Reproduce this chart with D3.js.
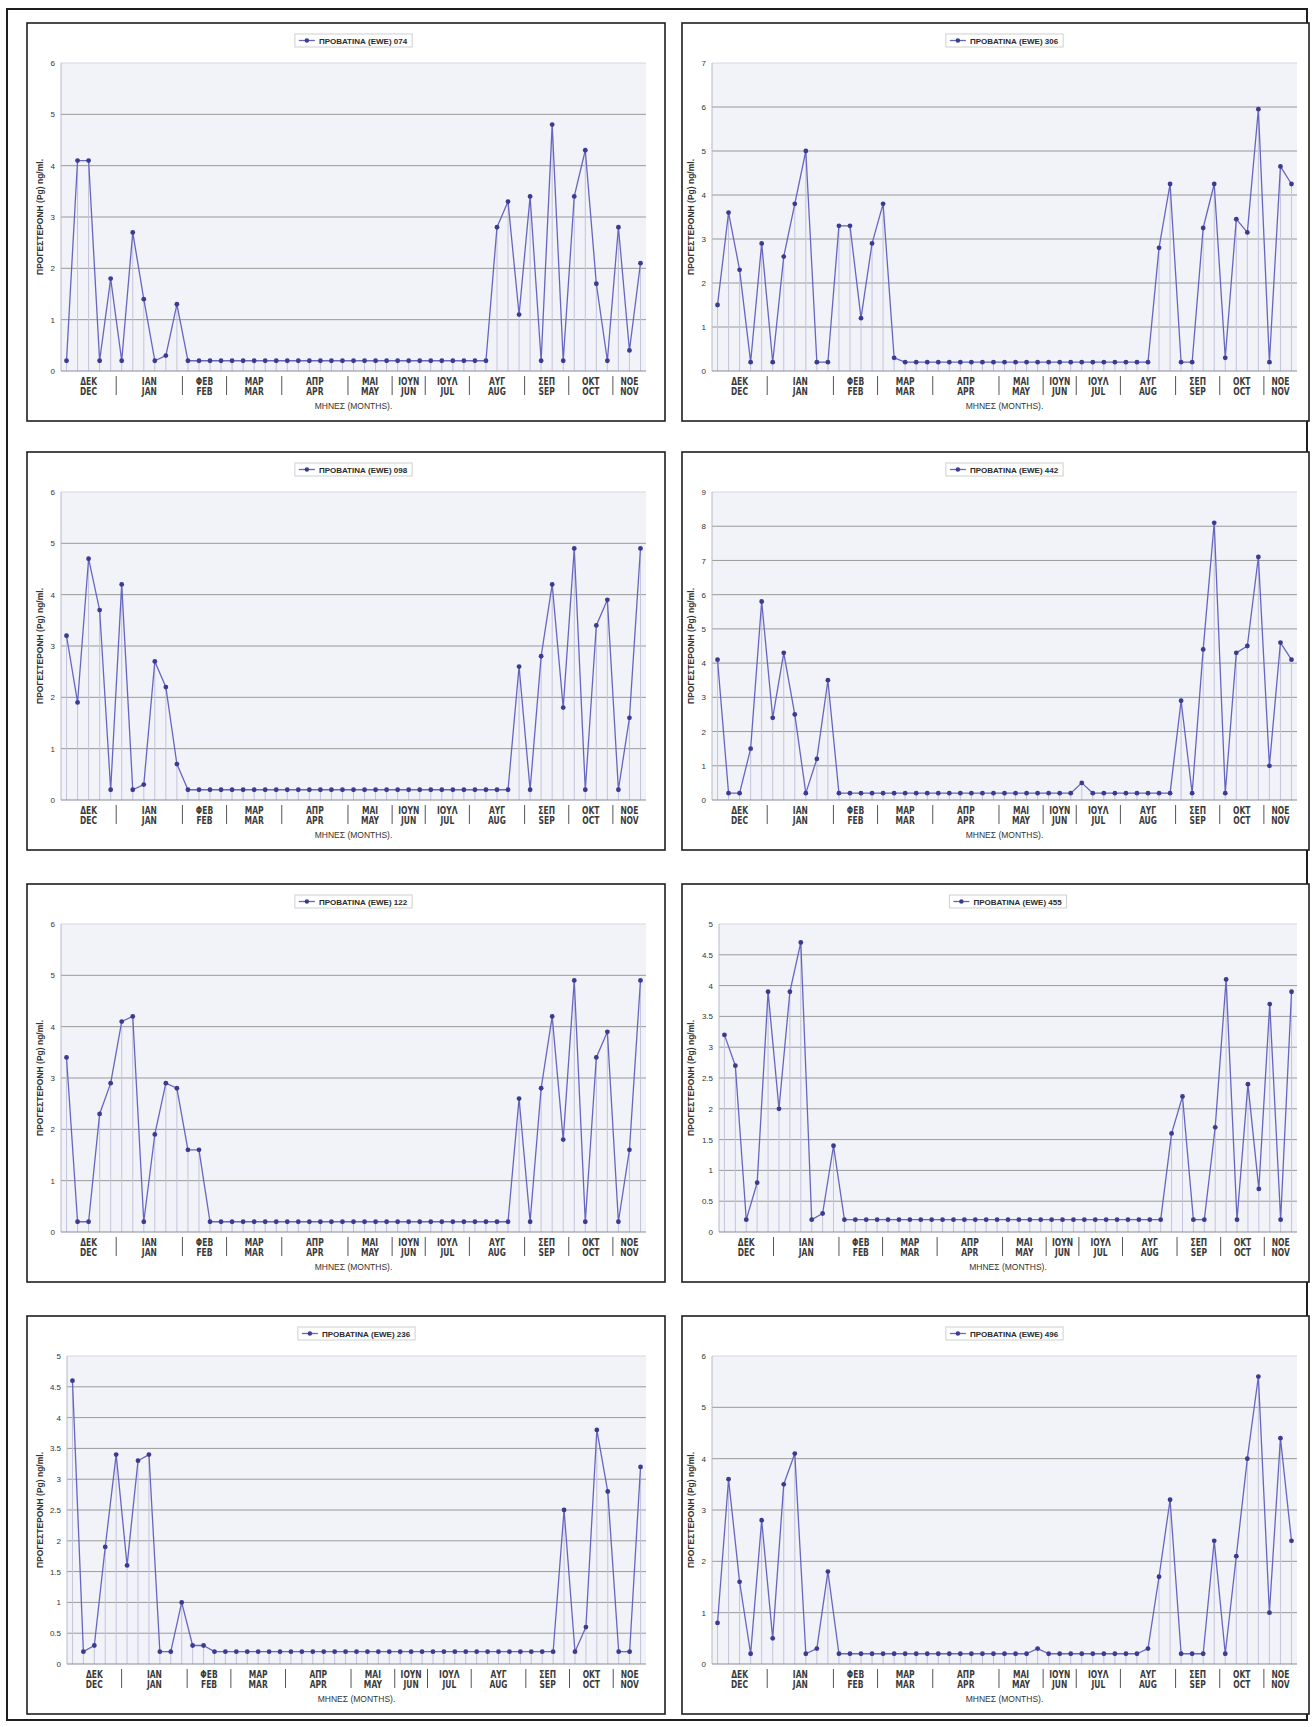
<!DOCTYPE html>
<html><head><meta charset="utf-8">
<script src="https://cdn.jsdelivr.net/npm/d3@7"></script>
<style>
body{margin:0;background:#fff;}
svg{display:block;}
</style></head><body>
<svg id="c" width="1312" height="1727"></svg>
<script>
// ---------------- DATA ----------------
const monthsGR = ["ΔΕΚ","ΙΑΝ","ΦΕΒ","ΜΑΡ","ΑΠΡ","ΜΑΙ","ΙΟΥΝ","ΙΟΥΛ","ΑΥΓ","ΣΕΠ","ΟΚΤ","ΝΟΕ"];
const monthsEN = ["DEC","JAN","FEB","MAR","APR","MAY","JUN","JUL","AUG","SEP","OCT","NOV"];
const samplesPerMonth = [5,6,4,5,6,4,3,4,5,4,4,3];
const eweIds = ["074","306","098","442","122","455","236","496"];

const ewe074 = [0.2,4.1,4.1,0.2,1.8,0.2,2.7,1.4,0.2,0.3,1.3,
  0.2,0.2,0.2,0.2,0.2,0.2,0.2,0.2,0.2,0.2,
  0.2,0.2,0.2,0.2,0.2,0.2,0.2,0.2,0.2,0.2,
  0.2,0.2,0.2,0.2,0.2,0.2,0.2,0.2,
  2.8,3.3,1.1,3.4,0.2,4.8,0.2,3.4,4.3,1.7,0.2,2.8,0.4,2.1];
const ewe306 = [1.5,3.6,2.3,0.2,2.9,0.2,2.6,3.8,5.0,0.2,0.2,3.3,3.3,1.2,2.9,3.8,0.3,
  0.2,0.2,0.2,0.2,0.2,0.2,0.2,0.2,0.2,0.2,
  0.2,0.2,0.2,0.2,0.2,0.2,0.2,0.2,0.2,0.2,
  0.2,0.2,0.2,
  2.8,4.25,0.2,0.2,3.25,4.25,0.3,3.45,3.15,5.95,0.2,4.65,4.25];
const ewe098 = [3.2,1.9,4.7,3.7,0.2,4.2,0.2,0.3,2.7,2.2,0.7,
  0.2,0.2,0.2,0.2,0.2,0.2,0.2,0.2,0.2,0.2,
  0.2,0.2,0.2,0.2,0.2,0.2,0.2,0.2,0.2,0.2,
  0.2,0.2,0.2,0.2,0.2,0.2,0.2,0.2,0.2,0.2,
  2.6,0.2,2.8,4.2,1.8,4.9,0.2,3.4,3.9,0.2,1.6,4.9];
const ewe442 = [4.1,0.2,0.2,1.5,5.8,2.4,4.3,2.5,0.2,1.2,3.5,
  0.2,0.2,0.2,0.2,0.2,0.2,0.2,0.2,0.2,0.2,
  0.2,0.2,0.2,0.2,0.2,0.2,0.2,0.2,0.2,0.2,
  0.2,0.2,
  0.5,
  0.2,0.2,0.2,0.2,0.2,0.2,0.2,0.2,
  2.9,0.2,4.4,8.1,0.2,4.3,4.5,7.1,1.0,4.6,4.1];
const ewe122 = [3.4,0.2,0.2,2.3,2.9,4.1,4.2,0.2,1.9,2.9,2.8,1.6,1.6,
  0.2,0.2,0.2,0.2,0.2,0.2,0.2,0.2,0.2,0.2,
  0.2,0.2,0.2,0.2,0.2,0.2,0.2,0.2,0.2,0.2,
  0.2,0.2,0.2,0.2,0.2,0.2,0.2,0.2,
  2.6,0.2,2.8,4.2,1.8,4.9,0.2,3.4,3.9,0.2,1.6,4.9];
const ewe455 = [3.2,2.7,0.2,0.8,3.9,2.0,3.9,4.7,0.2,0.3,1.4,
  0.2,0.2,0.2,0.2,0.2,0.2,0.2,0.2,0.2,0.2,
  0.2,0.2,0.2,0.2,0.2,0.2,0.2,0.2,0.2,0.2,
  0.2,0.2,0.2,0.2,0.2,0.2,0.2,0.2,0.2,0.2,
  1.6,2.2,0.2,0.2,1.7,4.1,0.2,2.4,0.7,3.7,0.2,3.9];
const ewe236 = [4.6,0.2,0.3,1.9,3.4,1.6,3.3,3.4,0.2,0.2,1.0,0.3,0.3,
  0.2,0.2,0.2,0.2,0.2,0.2,0.2,0.2,0.2,0.2,
  0.2,0.2,0.2,0.2,0.2,0.2,0.2,0.2,0.2,0.2,
  0.2,0.2,0.2,0.2,0.2,0.2,0.2,0.2,0.2,0.2,
  0.2,0.2,
  2.5,0.2,0.6,3.8,2.8,0.2,0.2,3.2];
const ewe496 = [0.8,3.6,1.6,0.2,2.8,0.5,3.5,4.1,0.2,0.3,1.8,
  0.2,0.2,0.2,0.2,0.2,0.2,0.2,0.2,0.2,0.2,
  0.2,0.2,0.2,0.2,0.2,0.2,0.2,0.2,
  0.3,
  0.2,0.2,0.2,0.2,0.2,0.2,0.2,0.2,0.2,
  0.3,
  1.7,3.2,0.2,0.2,0.2,2.4,0.2,2.1,4.0,5.6,1.0,4.4,2.4];

const series = [ewe074, ewe306, ewe098, ewe442, ewe122, ewe455, ewe236, ewe496];
const yMax  = [6,7,6,9,6,5,5,6];
const yStep = [1,1,1,1,1,0.5,0.5,1];
const legendPrefix = "ΠΡΟΒΑΤΙΝΑ (EWE) ";
const yTitle = "ΠΡΟΓΕΣΤΕΡΟΝΗ (Pg) ng/ml.";
const xTitle = "ΜΗΝΕΣ (MONTHS).";

// ---------------- LAYOUT ----------------
const colX = [27, 682], colW = [638, 627];
const rowY = [23, 452, 884, 1316], panelH = 398;
const mlInt = [34, 30], mlDec = [40, 37], mr = [19, 12];
const yTitleOff = [13, 9];
const plotTop = 40, plotBot = 348;

const C = {
  bg: "#f2f2f9", grid: "#9a9a9a", drop: "#c4c4da", line: "#6666c0",
  marker: "#3b3b92", text: "#333", frame: "#1e1e1e"
};
const fontMain = "Liberation Sans, Arial, sans-serif";
const fontNarrow = "'Liberation Sans Narrow', 'Arial Narrow', 'DejaVu Sans Condensed', sans-serif";

const svg = d3.select("#c");
svg.append("rect").attr("x",0).attr("y",0).attr("width",1312).attr("height",1727).attr("fill","#fff");
svg.append("rect").attr("x",7).attr("y",9).attr("width",1300).attr("height",1711)
  .attr("fill","none").attr("stroke",C.frame).attr("stroke-width",2);

const cats = [];
monthsEN.forEach((m, mi) => { for (let k = 0; k < samplesPerMonth[mi]; k++) cats.push(m + "-" + (k + 1)); });
const ends = d3.cumsum(samplesPerMonth);

series.forEach((vals, i) => {
  const col = i % 2, row = Math.floor(i / 2);
  const bx = colX[col], by = rowY[row], bw = colW[col];
  const dec = yStep[i] < 1;
  const pl = bx + (dec ? mlDec[col] : mlInt[col]);
  const pr = bx + bw - mr[col];
  const pt = by + plotTop, pb = by + plotBot;
  const g = svg.append("g");

  g.append("rect").attr("x", bx).attr("y", by).attr("width", bw).attr("height", panelH)
    .attr("fill", "#fff").attr("stroke", C.frame).attr("stroke-width", 1.6);

  const x = d3.scaleBand().domain(cats).range([pl, pr]);
  const cx = c => x(c) + x.bandwidth() / 2;
  const y = d3.scaleLinear().domain([0, yMax[i]]).range([pb, pt]);
  const ticks = d3.range(0, yMax[i] + yStep[i] / 2, yStep[i]);

  g.append("rect").attr("x", pl).attr("y", pt).attr("width", pr - pl).attr("height", pb - pt)
    .attr("fill", C.bg);

  // gridlines
  g.selectAll(".gl").data(ticks.filter(t => t > 0)).join("line")
    .attr("x1", pl).attr("x2", pr).attr("y1", d => y(d)).attr("y2", d => y(d))
    .attr("stroke", d => d === yMax[i] ? "#d6d6e2" : C.grid).attr("stroke-width", 1);

  // drop lines
  g.selectAll(".dl").data(vals).join("line")
    .attr("x1", (d, k) => cx(cats[k])).attr("x2", (d, k) => cx(cats[k]))
    .attr("y1", y(0)).attr("y2", d => y(d))
    .attr("stroke", C.drop).attr("stroke-width", 1);

  // axes lines
  g.append("line").attr("x1", pl).attr("x2", pl).attr("y1", pt).attr("y2", pb)
    .attr("stroke", "#b8b8c8").attr("stroke-width", 1);
  g.append("line").attr("x1", pl).attr("x2", pr).attr("y1", pb).attr("y2", pb)
    .attr("stroke", "#8a8a9a").attr("stroke-width", 1);

  // y tick labels
  const ya = d3.axisLeft(y).tickValues(ticks).tickSize(0).tickPadding(6).tickFormat(d3.format("~f"));
  const yg = g.append("g").attr("transform", `translate(${pl},0)`).call(ya);
  yg.select(".domain").remove();
  yg.selectAll("text").attr("font-family", fontMain).attr("font-size", 8).attr("fill", C.text);

  // series line + markers
  const line = d3.line().x((d, k) => cx(cats[k])).y(d => y(d));
  g.append("path").datum(vals).attr("d", line).attr("fill", "none")
    .attr("stroke", C.line).attr("stroke-width", 1.3).attr("stroke-linejoin", "round");
  g.selectAll(".mk").data(vals).join("circle")
    .attr("cx", (d, k) => cx(cats[k])).attr("cy", d => y(d)).attr("r", 2.4)
    .attr("fill", C.marker);

  // month separators
  g.selectAll(".sep").data(ends.slice(0, -1)).join("line")
    .attr("x1", d => x(cats[d])).attr("x2", d => x(cats[d]))
    .attr("y1", pb + 5).attr("y2", pb + 24)
    .attr("stroke", "#555").attr("stroke-width", 1);

  // month labels (condensed)
  const groups = monthsEN.map((m, mi) => {
    const s = ends[mi] - samplesPerMonth[mi], e = ends[mi] - 1;
    return { gr: monthsGR[mi], en: m, xc: (x(cats[s]) + x(cats[e]) + x.bandwidth()) / 2 };
  });
  const mg = g.selectAll(".ml").data(groups).join("g")
    .attr("transform", d => `translate(${d.xc},${pb}) scale(0.8,1)`);
  const mt = mg.append("text").attr("text-anchor", "middle")
    .attr("font-family", fontNarrow).attr("font-weight", "bold").attr("font-size", 10.5)
    .attr("fill", "#3a3a3a");
  mt.append("tspan").attr("x", 0).attr("y", 14).text(d => d.gr);
  mt.append("tspan").attr("x", 0).attr("y", 24).text(d => d.en);

  // x title
  g.append("text").attr("x", (pl + pr) / 2).attr("y", pb + 38).attr("text-anchor", "middle")
    .attr("font-family", fontMain).attr("font-size", 8.5).attr("fill", C.text).text(xTitle);

  // y title
  g.append("text").attr("transform", `translate(${bx + yTitleOff[col]},${(pt + pb) / 2}) rotate(-90)`)
    .attr("text-anchor", "middle").attr("dominant-baseline", "central")
    .attr("font-family", fontMain).attr("font-weight", "bold").attr("font-size", 8.5)
    .attr("fill", C.text).text(yTitle);

  // legend
  const lg = g.append("g");
  const lt = lg.append("text").attr("font-family", fontMain).attr("font-weight", "bold")
    .attr("font-size", 8).attr("fill", "#2a2a2a").attr("dominant-baseline", "central")
    .text(legendPrefix + eweIds[i]);
  const tw = lt.node().getComputedTextLength();
  const lw = 4 + 16 + 4 + tw + 5, lh = 13;
  const lx = (pl + pr) / 2 - lw / 2, ly = by + 11;
  lg.insert("rect", "text").attr("x", lx).attr("y", ly).attr("width", lw).attr("height", lh)
    .attr("fill", "#fff").attr("stroke", "#cfcfcf").attr("stroke-width", 1);
  lg.append("line").attr("x1", lx + 4).attr("x2", lx + 20).attr("y1", ly + lh / 2).attr("y2", ly + lh / 2)
    .attr("stroke", C.line).attr("stroke-width", 1.3);
  lg.append("circle").attr("cx", lx + 12).attr("cy", ly + lh / 2).attr("r", 2.2).attr("fill", C.marker);
  lt.attr("x", lx + 24).attr("y", ly + lh / 2 + 0.5);
});
</script>
</body></html>
